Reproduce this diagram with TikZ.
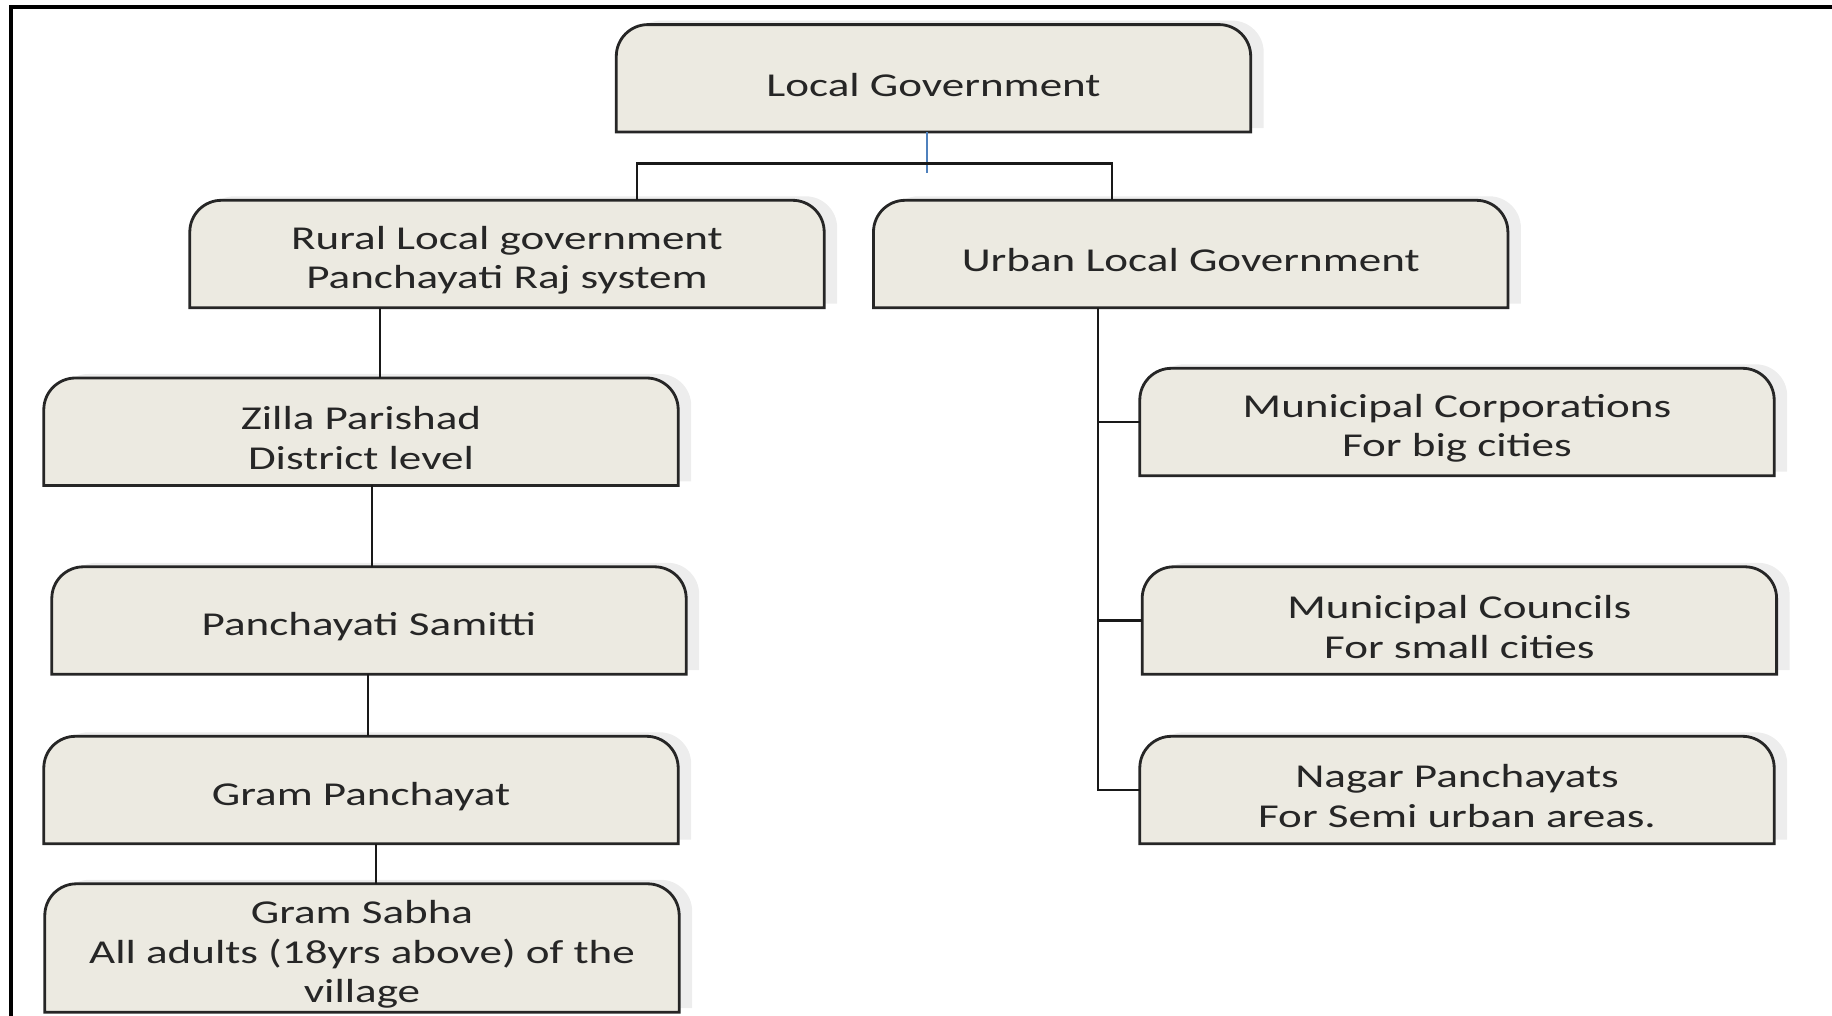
\documentclass[tikz,border=0pt]{standalone}
\usepackage{fontspec}
\setmainfont{Carlito}[FakeStretch=1.35]
\usetikzlibrary{backgrounds, shadows}

\definecolor{boxfill}{RGB}{236,234,225}
\definecolor{stubblue}{RGB}{79,129,189}

\begin{document}
\begin{tikzpicture}[
    unit/.style={minimum width=6.33cm, minimum height=1.06cm, inner sep=0pt, align=center,
        text=black!85, font=\fontsize{9.5}{11.3}\selectfont, transform canvas={yshift=-1.8pt}},
    tab/.style={fill=boxfill, line width=0.8pt, draw=black!85,
        drop shadow={shadow xshift=1.3mm, shadow yshift=0.4mm, fill=black, opacity=0.07}},
    link/.style={line width=0.8pt, black!90},
    edgeline/.style={line width=1.3pt}
]
    \useasboundingbox (0,0) rectangle (18.32,-10.16);
    \draw[edgeline] (0.11,-10.16) -- (0.11,-0.07) -- (18.32,-0.07);

    % top level
    \node[unit] (lg) at (9.335,-0.783) {Local Government};
    \node[unit] (rural) at (5.07,-2.54) {Rural Local government\\Panchayati Raj system};
    \node[unit] (urban) at (11.907,-2.54) {Urban Local Government};

    % rural side
    \node[unit] (zilla) at (3.61,-4.317) {Zilla Parishad\\District level};
    \node[unit] (ps) at (3.69,-6.205) {Panchayati Samitti};
    \node[unit] (gp) at (3.61,-7.9) {Gram Panchayat};
    \node[unit, minimum height=1.27cm] (gs) at (3.62,-9.48) {Gram Sabha\\All adults (18yrs above) of the\\village};

    % urban side
    \node[unit] (mc) at (14.57,-4.22) {Municipal Corporations\\For big cities};
    \node[unit] (mco) at (14.594,-6.205) {Municipal Councils\\For small cities};
    \node[unit] (np) at (14.57,-7.9) {Nagar Panchayats\\For Semi urban areas.};

    \begin{scope}[on background layer]
        \foreach \n in {lg,rural,urban,zilla,ps,gp,gs,mc,mco,np}
            \draw[tab] (\n.south west) [rounded corners=9pt] -- (\n.north west)
                -- (\n.north east) [sharp corners] -- (\n.south east) -- cycle;
    \end{scope}

    % connectors
    \coordinate (hubL) at (6.37,-1.636);
    \coordinate (hubR) at (11.12,-1.636);
    \coordinate (stubend) at (9.266,-1.73);
    \draw[stubblue, line width=0.6pt] (stubend |- lg.south) -- (stubend);
    \draw[link] (hubL |- rural.north) -- (hubL) -- (hubR) -- (hubR |- urban.north);

    \draw[link] (3.80,0 |- rural.south) -- (3.80,0 |- zilla.north);
    \draw[link] (3.72,0 |- zilla.south) -- (3.72,0 |- ps.north);
    \draw[link] (3.68,0 |- ps.south) -- (3.68,0 |- gp.north);
    \draw[link] (3.76,0 |- gp.south) -- (3.76,0 |- gs.north);

    \draw[link] (10.98,0 |- urban.south) |- (np.west);
    \draw[link] (10.98,0 |- mc.west) -- (mc.west);
    \draw[link] (10.98,0 |- mco.west) -- (mco.west);
\end{tikzpicture}
\end{document}
